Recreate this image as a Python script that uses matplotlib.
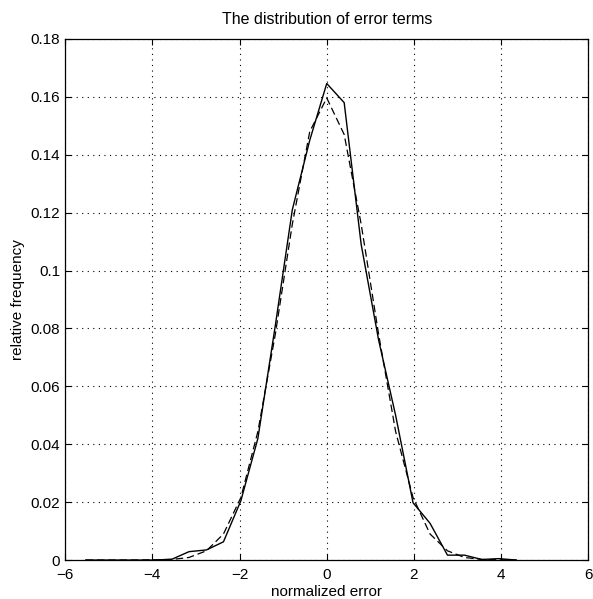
import matplotlib
matplotlib.use("Agg")
import matplotlib.pyplot as plt

plt.rcParams['font.family'] = ['Liberation Sans', 'DejaVu Sans']

# bin centres of the histogram (normalized error)
bins = [-5.53, -5.13, -4.74, -4.34, -3.95, -3.55, -3.16, -2.76, -2.37, -1.97,
        -1.58, -1.18, -0.79, -0.39, 0.0, 0.40, 0.79, 1.19, 1.58, 1.98,
        2.37, 2.77, 3.16, 3.56, 3.95, 4.35]

# observed relative frequency (solid)
observed = [0.0, 0.0, 0.0, 0.0, 0.0, 0.0003, 0.0029, 0.0035, 0.0063, 0.0205,
            0.042, 0.081, 0.121, 0.145, 0.1646, 0.158, 0.109, 0.076, 0.050, 0.0198,
            0.0127, 0.0017, 0.0017, 0.0002, 0.0005, 0.0]

# fitted normal (dashed)
fitted = [0.0, 0.0, 0.0, 0.0, 0.0001, 0.0002, 0.0009, 0.0032, 0.009, 0.0216,
          0.0444, 0.078, 0.116, 0.148, 0.1596, 0.147, 0.116, 0.078, 0.0444, 0.0216,
          0.009, 0.0032, 0.0009, 0.0002, 0.0001, 0.0]

xticks = [-6, -4, -2, 0, 2, 4, 6]
yticks = [0, 0.02, 0.04, 0.06, 0.08, 0.1, 0.12, 0.14, 0.16, 0.18]
ylabels = ['0', '0.02', '0.04', '0.06', '0.08', '0.1', '0.12', '0.14', '0.16', '0.18']

fig = plt.figure(figsize=(5.93, 5.99), dpi=100)
ax = fig.add_axes([0.110, 0.065, 0.882, 0.870])

ax.plot(bins, observed, color='black', linewidth=1.0, linestyle='-')
ax.plot(bins, fitted, color='black', linewidth=0.9, linestyle=(0, (6, 3)))

ax.set_xlim(-6, 6)
ax.set_ylim(0, 0.18)
ax.set_xticks(xticks)
ax.set_xticklabels(['\u22126', '\u22124', '\u22122', '0', '2', '4', '6'])
ax.set_yticks(yticks)
ax.set_yticklabels(ylabels)
ax.tick_params(direction='in', top=True, right=True, length=4, labelsize=11, width=0.8)
ax.tick_params(axis='x', pad=6)
ax.grid(True, linestyle=(0, (1, 4)), color='black', linewidth=0.8)
for s in ax.spines.values():
    s.set_linewidth(0.9)

ax.set_title("The distribution of error terms", fontsize=11.5, pad=11)
ax.set_xlabel("normalized error", fontsize=11, labelpad=2)
ax.set_ylabel("relative frequency", fontsize=11, labelpad=4)

fig.savefig("out.png", dpi=100)
